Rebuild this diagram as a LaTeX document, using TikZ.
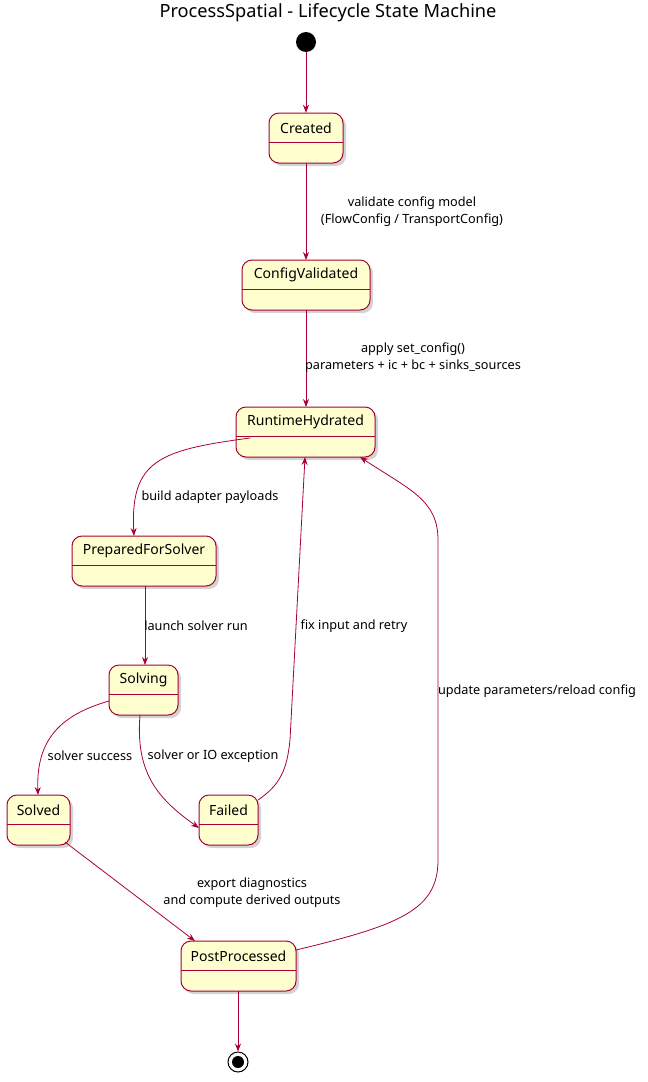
\documentclass[tikz,border=0pt]{standalone}
\usepackage{fontspec}
\setmainfont{Noto Sans}
\usetikzlibrary{arrows.meta,shadows}
\definecolor{plfill}{HTML}{FEFECE}
\definecolor{plline}{HTML}{A80036}
\begin{document}
\begin{tikzpicture}[x=1pt,y=-1pt,
  st/.style={draw=plline,fill=plfill,line width=1pt,rounded corners=10pt,
    drop shadow={shadow xshift=3pt,shadow yshift=-3pt,opacity=0.35}},
  nm/.style={font=\fontsize{14}{16}\selectfont},
  lbl/.style={font=\fontsize{12.7}{17}\selectfont,align=center},
  ar/.style={draw=plline,line width=0.8pt,-{Stealth[length=8pt,width=6pt]}}]
\useasboundingbox (0,0) rectangle (648,1082);
\node[font=\fontsize{18.2}{20}\selectfont] (title) at (328,13) {ProcessSpatial - Lifecycle State Machine};
\newcommand\stbox[5]{%
  \draw[st] (#2,#3) rectangle (#4,#5);
  \draw[plline,line width=1pt] (#2,{#3+29}) -- (#4,{#3+29});
  \node (#1) at ({(#2+#4)/2},{(#3+#5)/2}) [minimum width={#4-#2},minimum height={#5-#3}] {};
}
\stbox{cr}{269}{113}{343}{163}
\node[nm] at (306,128) {Created};
\stbox{cv}{242}{260}{370}{310}
\node[nm] at (306,275) {ConfigValidated};
\stbox{rh}{236}{407}{375}{457}
\node[nm] at (305.5,422) {RuntimeHydrated};
\stbox{pfs}{72}{536}{216}{586}
\node[nm] at (144,551) {PreparedForSolver};
\stbox{sv}{109}{665}{178}{715}
\node[nm] at (143.5,680) {Solving};
\stbox{sd}{7}{795}{70}{845}
\node[nm] at (38.5,810) {Solved};
\stbox{fl}{199}{795}{258}{845}
\node[nm] at (228.5,810) {Failed};
\stbox{pp}{181}{941}{296}{991}
\node[nm] at (238.5,956) {PostProcessed};
\fill (306,42) circle (10pt);
\node[circle,minimum size=20pt,inner sep=0pt] (startn) at (306,42) {};
\node[circle,draw,line width=1pt,fill=white,minimum size=20pt,inner sep=0pt] (endn) at (238,1062) {};
\fill (238,1062) circle (6pt);
\draw[ar] (startn) -- (cr);
\draw[ar] (306,163) -- (306,260);
\node[lbl] at (412,212) {validate config model\\(FlowConfig / TransportConfig)};
\draw[ar] (306,310) -- (306,407);
\node[lbl] at (413,358) {apply set\_config()\\parameters + ic + bc + sinks\_sources};
\draw[ar] (250,438) .. controls (160,450) and (130,460) .. (134,536);
\node[lbl] at (210,497) {build adapter payloads};
\draw[ar] (145,586) -- (145,665);
\node[lbl] at (196,626) {launch solver run};
\draw[ar] (109,701) .. controls (60,715) and (36,740) .. (38,795);
\node[lbl] at (90,756) {solver success};
\draw[ar] (140,715) .. controls (135,775) and (160,800) .. (199,828);
\node[lbl] at (213,756) {solver or IO exception};
\draw[ar] (258,800) .. controls (280,785) and (287,770) .. (290,740) -- (305,457);
\node[lbl] at (354,626) {fix input and retry};
\draw[ar] (65,842) -- (195,941);
\node[lbl] at (252,893) {export diagnostics\\and compute derived outputs};
\draw[ar] (296,950) .. controls (400,925) and (438,910) .. (438,860) -- (438,540) .. controls (438,500) and (410,490) .. (360,457);
\node[lbl] at (537,691) {update parameters/reload config};
\draw[ar] (238,991) -- (endn);
\end{tikzpicture}
\end{document}
